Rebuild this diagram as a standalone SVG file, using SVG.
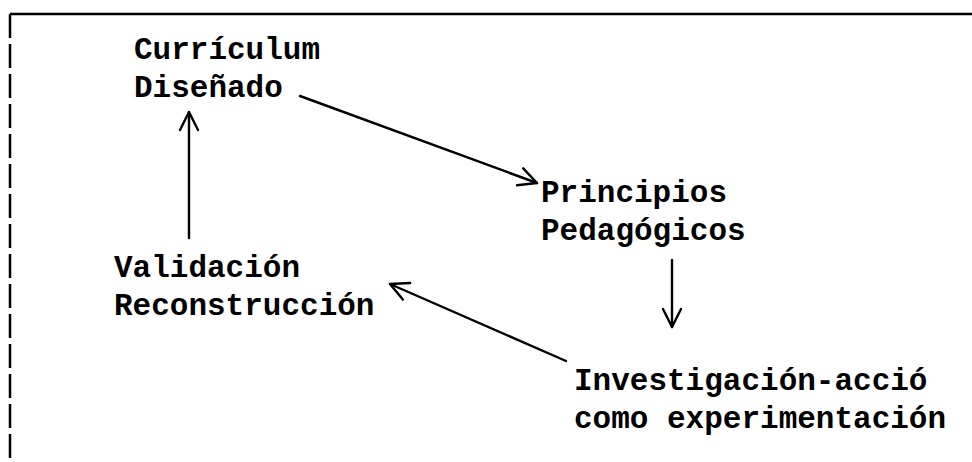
<svg xmlns="http://www.w3.org/2000/svg" width="972" height="462" viewBox="0 0 972 462">
<style>
text{font-family:"Liberation Mono","Courier New",monospace;font-weight:bold;font-size:31px;fill:#000}
.c{stroke:#000;stroke-width:2.4;fill:none;stroke-linecap:round;stroke-linejoin:round}
</style>
<defs>
<marker id="v" viewBox="0 0 22 22" refX="20" refY="11" markerWidth="22" markerHeight="22" markerUnits="userSpaceOnUse" orient="auto">
<polyline points="2,2 20,11 2,20" fill="none" stroke="#000" stroke-width="2.4" stroke-linecap="round" stroke-linejoin="round"/>
</marker>
</defs>
<rect width="972" height="462" fill="#fff"/>
<g id="frame">
<line x1="10" y1="14" x2="972" y2="14" stroke="#000" stroke-width="2.5"/>
<line x1="10" y1="14" x2="10" y2="462" stroke="#000" stroke-width="2.5" stroke-dasharray="24,6"/>
</g>
<g id="curriculum"><text x="134" y="59">Currículum</text><text x="134" y="97">Diseñado</text></g>
<g id="principios"><text x="541" y="202">Principios</text><text x="541" y="240">Pedagógicos</text></g>
<g id="validacion"><text x="114" y="277">Validación</text><text x="114" y="315">Reconstrucción</text></g>
<g id="investigacion"><text x="574" y="390">Investigación-acció</text><text x="574" y="428">como experimentación</text></g>
<g id="connectors">
<line class="c" x1="300" y1="96" x2="537" y2="183" marker-end="url(#v)"/>
<line class="c" x1="672" y1="260" x2="672" y2="327" marker-end="url(#v)"/>
<line class="c" x1="566" y1="361" x2="390" y2="284" marker-end="url(#v)"/>
<line class="c" x1="189" y1="238" x2="189" y2="112" marker-end="url(#v)"/>
</g>
</svg>
